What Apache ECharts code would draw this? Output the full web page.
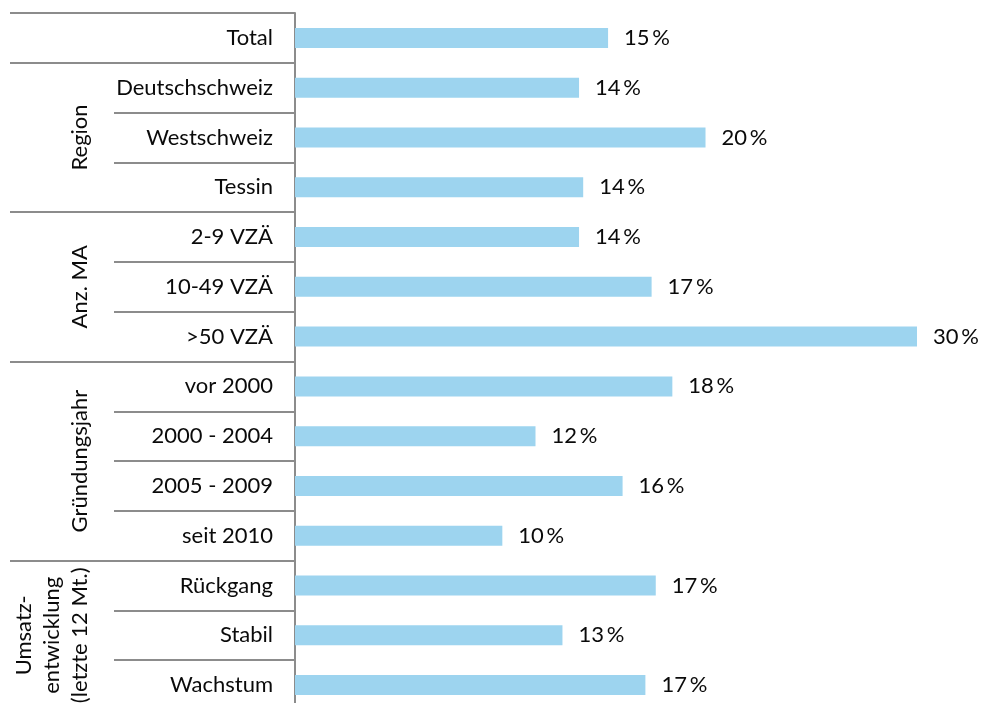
<!doctype html>
<html lang="de">
<head>
    <meta charset="utf-8">
    <title>Anteil nach Segment</title>
    <script src="https://cdn.jsdelivr.net/npm/echarts@6/dist/echarts.min.js"></script>
    <style>
        *{margin:0;padding:0}
        html,body{width:100%;height:100%;background:#fff;}
        #main{width:981px;height:703px;}
    </style>
</head>
<body>
<div id="main"></div>
<script type="text/javascript">
    var categories = ['Total', 'Deutschschweiz', 'Westschweiz', 'Tessin', '2-9 VZÄ', '10-49 VZÄ', '>50 VZÄ',
        'vor 2000', '2000 - 2004', '2005 - 2009', 'seit 2010', 'Rückgang', 'Stabil', 'Wachstum'];
    var values = [15.1, 13.7, 19.8, 13.9, 13.7, 17.2, 30.0, 18.2, 11.6, 15.8, 10.0, 17.4, 12.9, 16.9];

    // Gruppen: Name, erste und letzte Zeile
    var groupNames = ['', 'Region', 'Anz. MA', 'Gründungsjahr', 'Umsatz-\nentwicklung\n(letzte 12 Mt.)'];
    var groupStart = [0, 1, 4, 7, 11];
    var groupEnd = [0, 3, 6, 10, 13];

    var FONT = 'Lato, "Open Sans", sans-serif';
    var lineColor = '#8c8c8c';
    var textColor = '#0a0a0a';

    var myChart = echarts.init(document.getElementById('main'));

    var option = {
        animation: false,
        grid: {
            left: 295,
            top: 13,
            width: 622,
            height: 697,
            outerBoundsMode: 'none'
        },
        xAxis: {
            type: 'value',
            min: 0,
            max: 30,
            show: false
        },
        yAxis: [{
            type: 'category',
            data: categories,
            inverse: true,
            axisLine: {lineStyle: {color: lineColor, width: 2}},
            axisTick: {
                show: true,
                length: 181,
                lineStyle: {color: lineColor, width: 2}
            },
            axisLabel: {
                margin: 22,
                color: textColor,
                fontFamily: FONT,
                fontSize: 22
            }
        }, {
            // lange Linien an den Gruppengrenzen
            type: 'category',
            data: categories,
            inverse: true,
            position: 'left',
            axisLine: {show: false},
            axisLabel: {show: false},
            axisTick: {
                show: true,
                length: 285,
                interval: function(index) {
                    return groupStart.indexOf(index) >= 0;
                },
                lineStyle: {color: lineColor, width: 2}
            }
        }],
        series: [{
            type: 'bar',
            data: values,
            barWidth: 20,
            itemStyle: {color: '#9dd4ef'},
            label: {
                show: true,
                position: 'right',
                distance: 16,
                color: textColor,
                fontFamily: FONT,
                fontSize: 22,
                formatter: function(p) {
                    return Math.round(p.value) + '\u2009%';
                }
            }
        }]
    };
    myChart.setOption(option);

    // Gruppenbeschriftungen, gedreht
    var graphics = [];
    for (var i = 0; i < groupNames.length; i++) {
        if (!groupNames[i]) continue;
        var y0 = myChart.convertToPixel({yAxisIndex: 0}, groupStart[i]);
        var y1 = myChart.convertToPixel({yAxisIndex: 0}, groupEnd[i]);
        graphics.push({
            type: 'text',
            x: 94,
            y: (y0 + y1) / 2,
            rotation: Math.PI / 2,
            style: {
                text: groupNames[i],
                fill: textColor,
                font: '22px ' + FONT,
                align: 'center',
                verticalAlign: 'bottom',
                lineHeight: 28
            }
        });
    }
    myChart.setOption({graphic: graphics});
</script>
</body>
</html>
